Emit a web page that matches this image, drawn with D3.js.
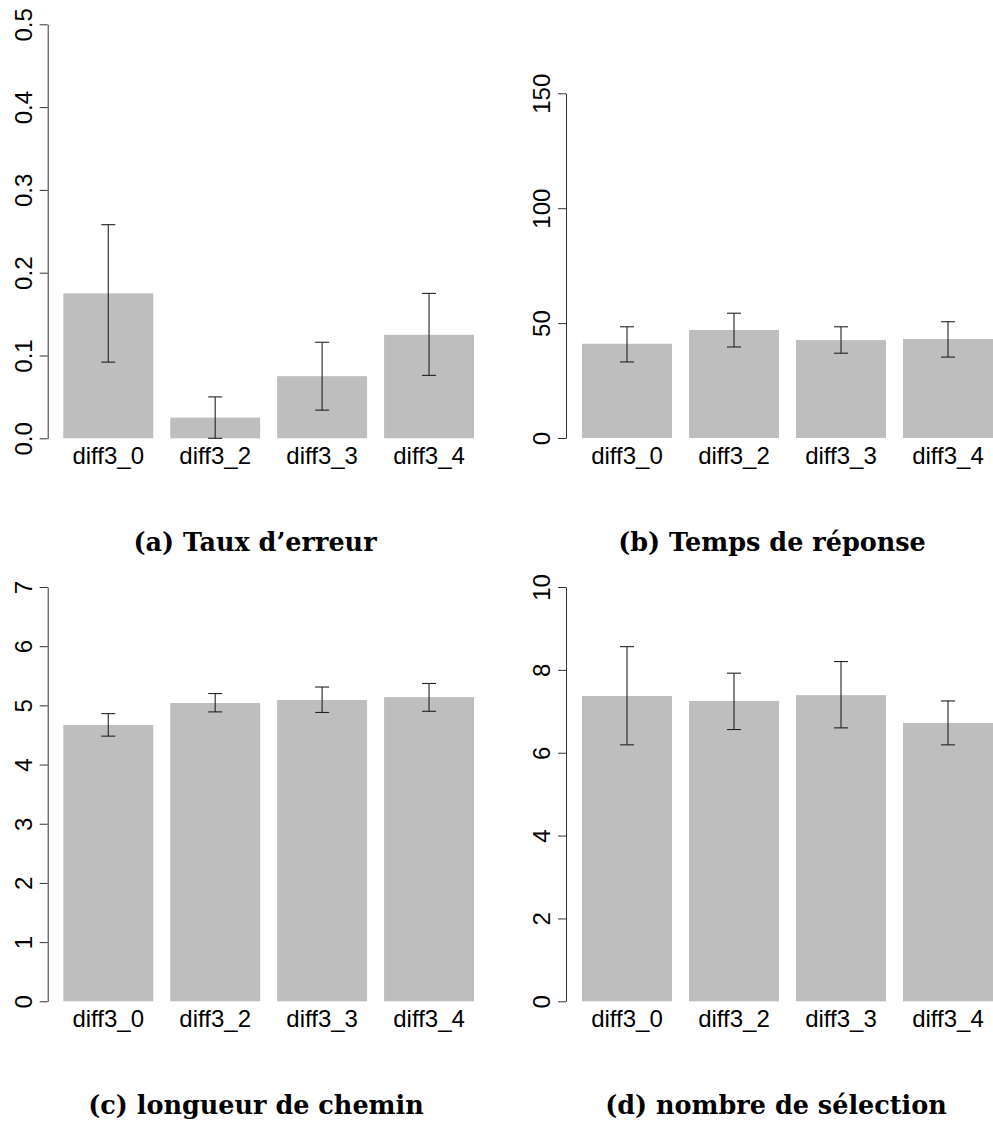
<!DOCTYPE html>
<html>
<head>
<meta charset="utf-8">
<script src="https://cdn.jsdelivr.net/npm/d3@7"></script>
<style>
  body { margin: 0; background: #fff; }
  svg { display: block; }
</style>
</head>
<body>
<div id="app"></div>
<script>
//data
const categories = ["diff3_0", "diff3_2", "diff3_3", "diff3_4"];

const errorMean = [0.175, 0.025, 0.075, 0.125];
const errorLow = [0.092, 0.0, 0.034, 0.076];
const errorHigh = [0.258, 0.05, 0.116, 0.175];
const errorTicks = [0, 0.1, 0.2, 0.3, 0.4, 0.5];

const timeMean = [41.0, 47.0, 42.6, 43.1];
const timeLow = [33.1, 39.6, 36.9, 35.2];
const timeHigh = [48.4, 54.3, 48.4, 50.6];
const timeTicks = [0, 50, 100, 150];

const pathMean = [4.67, 5.04, 5.09, 5.14];
const pathLow = [4.48, 4.89, 4.88, 4.90];
const pathHigh = [4.86, 5.20, 5.31, 5.37];
const pathTicks = [0, 1, 2, 3, 4, 5, 6, 7];

const selMean = [7.37, 7.25, 7.39, 6.72];
const selLow = [6.19, 6.56, 6.60, 6.19];
const selHigh = [8.56, 7.92, 8.20, 7.25];
const selTicks = [0, 2, 4, 6, 8, 10];

const titles = [
  "(a) Taux d\u2019erreur",
  "(b) Temps de r\u00e9ponse",
  "(c) longueur de chemin",
  "(d) nombre de s\u00e9lection",
];

//create SVG
const svg = d3
  .select("#app")
  .append("svg")
  .attr("width", 993)
  .attr("height", 1126);

svg.append("rect").attr("width", 993).attr("height", 1126).style("fill", "#fff");

//draw one barplot panel
const drawPanel = (p) => {
  const g = svg.append("g");

  const x = d3
    .scaleBand()
    .domain(categories)
    .range([p.x0, p.x1])
    .paddingInner(0.159)
    .paddingOuter(0);

  const y = d3.scaleLinear().domain([0, p.max]).range([p.yBottom, p.yTop]);

  // bars
  g.selectAll(".bar")
    .data(p.mean)
    .enter()
    .append("rect")
    .attr("class", "bar")
    .attr("x", (d, i) => x(categories[i]))
    .attr("y", (d) => y(d))
    .attr("width", x.bandwidth())
    .attr("height", (d) => y(0) - y(d))
    .style("fill", "#bebebe");

  // error bars
  const eb = g
    .selectAll(".err")
    .data(p.mean.map((d, i) => ({ c: categories[i], lo: p.low[i], hi: p.high[i] })))
    .enter()
    .append("g")
    .attr("class", "err")
    .attr("transform", (d) => `translate(${x(d.c) + x.bandwidth() / 2},0)`);
  eb.append("line")
    .attr("y1", (d) => y(d.lo))
    .attr("y2", (d) => y(d.hi));
  eb.append("line")
    .attr("x1", -7)
    .attr("x2", 7)
    .attr("y1", (d) => y(d.hi))
    .attr("y2", (d) => y(d.hi));
  eb.append("line")
    .attr("x1", -7)
    .attr("x2", 7)
    .attr("y1", (d) => y(d.lo))
    .attr("y2", (d) => y(d.lo));
  eb.selectAll("line").style("stroke", "#222").style("stroke-width", 1.1);

  // y axis
  const ax = g
    .append("g")
    .attr("transform", `translate(${p.axisX},0)`)
    .call(
      d3
        .axisLeft(y)
        .tickValues(p.ticks)
        .tickFormat(p.fmt)
        .tickSizeInner(8)
        .tickSizeOuter(0)
    );
  ax.select(".domain").style("stroke", "#333");
  ax.selectAll(".tick line").style("stroke", "#333");
  ax.selectAll(".tick text")
    .attr("transform", "rotate(-90)")
    .attr("x", 0)
    .attr("y", -16)
    .attr("dy", 0)
    .attr("text-anchor", "middle")
    .style("font-family", "Liberation Sans, Arial, sans-serif")
    .style("font-size", "24px")
    .style("fill", "#000");

  // category labels
  g.selectAll(".cat")
    .data(categories)
    .enter()
    .append("text")
    .attr("class", "cat")
    .attr("x", (d) => x(d) + x.bandwidth() / 2)
    .attr("y", p.yBottom + 26)
    .attr("text-anchor", "middle")
    .style("font-family", "Liberation Sans, Arial, sans-serif")
    .style("font-size", "24px")
    .style("fill", "#000")
    .text((d) => d);

  // caption
  g.append("text")
    .attr("x", p.titleX)
    .attr("y", p.titleY)
    .attr("text-anchor", "middle")
    .style("font-family", "DejaVu Serif, serif")
    .style("font-weight", "bold")
    .style("font-size", "25.5px")
    .style("fill", "#000")
    .text(p.title);
};

drawPanel({
  x0: 63.3, x1: 474, axisX: 47.7, yTop: 24.3, yBottom: 438.3, max: 0.5,
  ticks: errorTicks, fmt: d3.format(".1f"),
  mean: errorMean, low: errorLow, high: errorHigh,
  title: titles[0], titleX: 255, titleY: 551,
});
drawPanel({
  x0: 582, x1: 993, axisX: 566, yTop: 93.3, yBottom: 438, max: 150,
  ticks: timeTicks, fmt: d3.format("d"),
  mean: timeMean, low: timeLow, high: timeHigh,
  title: titles[1], titleX: 772, titleY: 551,
});
drawPanel({
  x0: 63.3, x1: 474, axisX: 47.7, yTop: 587, yBottom: 1001.3, max: 7,
  ticks: pathTicks, fmt: d3.format("d"),
  mean: pathMean, low: pathLow, high: pathHigh,
  title: titles[2], titleX: 256, titleY: 1114,
});
drawPanel({
  x0: 582, x1: 993, axisX: 566, yTop: 587, yBottom: 1001.3, max: 10,
  ticks: selTicks, fmt: d3.format("d"),
  mean: selMean, low: selLow, high: selHigh,
  title: titles[3], titleX: 776, titleY: 1114,
});
</script>
</body>
</html>
